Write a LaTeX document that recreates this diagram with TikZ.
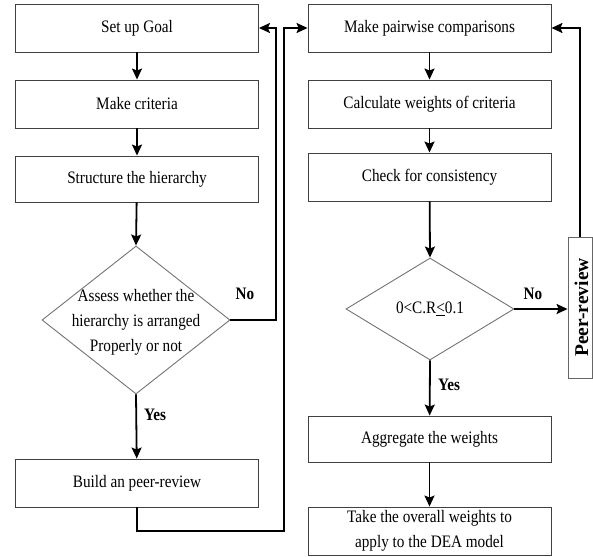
\documentclass[tikz,border=0pt]{standalone}
\usepackage{fontspec}
\setmainfont{Liberation Serif}[FakeStretch=0.87]
\newfontfamily\plainserif{Liberation Serif}
\usetikzlibrary{shapes.geometric,arrows.meta}
\begin{document}
\begin{tikzpicture}[x=1pt,y=-1pt,
  every node/.style={font=\fontsize{17.5}{25}\selectfont},
  procbox/.style={draw=black!75,line width=0.9pt,rectangle,minimum width=243pt,minimum height=#1,inner sep=0pt,align=center},
  procbox/.default=48pt,
  decision/.style={draw=black!55,line width=0.9pt,diamond,inner sep=0pt},
  flow/.style={draw=black,line width=1.8pt,-{Stealth[length=11pt,width=10pt,inset=2pt]}},
  lbl/.style={font=\fontsize{17.5}{25}\selectfont\bfseries}
]
\useasboundingbox (0,0) rectangle (593,556);
% left column
\node[procbox] (goal) at (137,28) {Set up Goal};
\node[procbox] (crit) at (137,104) {Make criteria};
\node[procbox=46pt] (struct) at (137,179) {Structure the hierarchy};
\node[decision,minimum width=188pt,minimum height=148pt] (d1) at (136,320) {};
\node[align=center,inner sep=0pt] (d1t) at (136,322) {Assess whether the\\hierarchy is arranged\\Properly or not};
\node[procbox] (build) at (137,483) {Build an peer-review};
% right column
\node[procbox] (pair) at (429.5,28) {Make pairwise comparisons};
\node[procbox] (calc) at (429.5,104) {Calculate weights of criteria};
\node[procbox] (check) at (429.5,177) {Check for consistency};
\node[decision,minimum width=168pt,minimum height=102pt] (d2) at (430,309) {};
\node[inner sep=0pt] (d2t) at (430,309) {0<C.R\underline{<}0.1};
\node[draw=black!60,line width=0.9pt,minimum width=24pt,minimum height=141pt,inner sep=0pt] (peer) at (580,307.5) {};
\node[rotate=90,inner sep=0pt,font=\fontsize{19.5}{22}\selectfont\plainserif\bfseries] (peert) at (581.5,307.5) {Peer-review};
\node[procbox=46pt] (agg) at (429.5,439) {Aggregate the weights};
\node[procbox,align=center] (take) at (429.5,531) {Take the overall weights to\\apply to the DEA model};
% labels
\node[lbl] (no1) at (245,294) {No};
\node[lbl] (yes1) at (155,415) {Yes};
\node[lbl] (no2) at (533,294) {No};
\node[lbl] (yes2) at (449,385) {Yes};
% coordinates for connectors
\coordinate (c1) at (137,531);
\coordinate (c2) at (284,531);
\coordinate (c3) at (284,28);
\coordinate (c4) at (276,320);
\coordinate (c5) at (276,28);
\coordinate (c6) at (580,28);
% connectors
\draw[flow] (goal) -- (crit);
\draw[flow] (crit) -- (struct);
\draw[flow] (struct) -- (d1.north);
\draw[flow] (d1.south) -- (build);
\draw[flow] (build.south) -- (c1) -- (c2) -- (c3) -- (pair.west);
\draw[flow] (d1.east) -- (c4) -- (c5) -- (goal.east);
\draw[flow] (pair) -- (calc);
\draw[flow] (calc) -- (check);
\draw[flow] (check) -- (d2.north);
\draw[flow] (d2.south) -- (agg);
\draw[flow] (agg) -- (take);
\draw[flow] (d2.east) -- (peer.west |- d2.east);
\draw[flow] (peer.north) -- (c6) -- (pair.east);
\end{tikzpicture}
\end{document}
